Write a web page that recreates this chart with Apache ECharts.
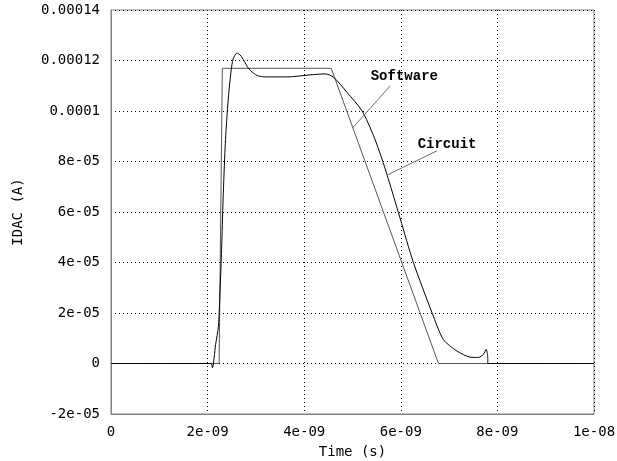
<!DOCTYPE html>
<html>
<head>
<meta charset="utf-8">
<script src="https://cdn.jsdelivr.net/npm/echarts@6/dist/echarts.min.js"></script>
<style>html,body{margin:0;padding:0;background:#fff}#c{width:617px;height:461px}</style>
</head>
<body>
<div id="c"></div>
<script>
// time in ns, current in µA (1e-6 A)
var xTickLabels = ['0', '2e-09', '4e-09', '6e-09', '8e-09', '1e-08'];
var yTickLabels = ['-2e-05', '0', '2e-05', '4e-05', '6e-05', '8e-05', '0.0001', '0.00012', '0.00014'];

var softwareT = [0, 2.238, 2.305, 4.56, 6.78, 10];
var softwareI = [0, 0, 116.9, 116.9, 0, 0];

var circuitT = [0, 2.07, 2.10, 2.166, 2.224, 2.259, 2.290, 2.321, 2.363, 2.404, 2.446, 2.487, 2.528, 2.605, 2.674, 2.756, 2.839, 2.943, 3.047, 3.192, 3.648, 4.124, 4.435, 4.607, 4.885, 5.196, 5.436, 5.610, 5.714, 5.818, 5.990, 6.259, 6.653, 6.881, 7.165, 7.440, 7.606, 7.710, 7.766, 7.799, 7.803, 7.979, 10];
var circuitI = [0, 0, -1.7, 7.5, 14.7, 29.4, 45.2, 65.1, 85.7, 98.8, 108.7, 115.9, 120.6, 122.9, 122.2, 119.8, 117.1, 115.1, 113.9, 113.5, 113.5, 114.3, 114.7, 113.4, 107.4, 100.1, 90.2, 81.0, 74.8, 68.3, 57.2, 40.1, 19.8, 9.5, 4.9, 2.5, 2.4, 3.6, 5.6, 2.8, 0, 0, 0];

function zip(a, b) { return a.map(function (v, i) { return [v, b[i]]; }); }

var chart = echarts.init(document.getElementById('c'), null, { renderer: 'canvas' });
var tickFont = { fontFamily: 'DejaVu Sans Mono', fontSize: 14, color: '#000' };

var option = {
  animation: false,
  backgroundColor: '#fff',
  grid: { left: 111, right: 23, top: 10, bottom: 47, show: true, borderColor: '#808080', borderWidth: 1,
    containLabel: false, outerBoundsMode: 'none' },
  xAxis: {
    type: 'value', min: 0, max: 10, interval: 2,
    name: 'Time (s)', nameLocation: 'middle', nameGap: 31,
    nameTextStyle: tickFont,
    axisLine: { show: true, onZero: false, lineStyle: { color: '#808080', width: 1 } },
    axisTick: { show: false },
    axisLabel: Object.assign({ margin: 11, formatter: function (v) { return xTickLabels[Math.round(v / 2)]; } }, tickFont),
    splitLine: { show: true, lineStyle: { color: '#000', width: 1, type: [1, 3] } }
  },
  yAxis: {
    type: 'value', min: -20, max: 140, interval: 20,
    name: 'IDAC (A)', nameLocation: 'middle', nameGap: 86, nameRotate: 90,
    nameTextStyle: tickFont,
    axisLine: { show: true, onZero: false, lineStyle: { color: '#808080', width: 1 } },
    axisTick: { show: false },
    axisLabel: Object.assign({ margin: 11, formatter: function (v) { return yTickLabels[Math.round((v + 20) / 20)]; } }, tickFont),
    splitLine: { show: true, lineStyle: { color: '#000', width: 1, type: [1, 3] } }
  },
  series: [
    { name: 'Software', type: 'line', data: zip(softwareT, softwareI), showSymbol: false, symbol: 'none',
      lineStyle: { color: '#555', width: 1 }, z: 3 },
    { name: 'Circuit', type: 'line', data: zip(circuitT, circuitI), showSymbol: false, symbol: 'none',
      smooth: 0.25,
      lineStyle: { color: '#000', width: 1 }, z: 4 },
    { name: 'pointers', type: 'line', data: [], symbol: 'none',
      markLine: {
        silent: true, symbol: ['none', 'none'], label: { show: false },
        lineStyle: { color: '#707070', width: 1, type: 'solid' },
        data: [
          [{ coord: [5.782, 110.0] }, { coord: [5.001, 93.25] }],
          [{ coord: [6.750, 84.24] }, { coord: [5.714, 74.6] }]
        ]
      }
    }
  ]
};
chart.setOption(option);

var notes = [
  { text: 'Software', at: [6.073, 113.5] },
  { text: 'Circuit', at: [6.958, 86.9] }
];
chart.setOption({
  graphic: notes.map(function (n) {
    var p = chart.convertToPixel({ gridIndex: 0 }, n.at);
    return { type: 'text', x: p[0], y: p[1], style: { text: n.text, fill: '#000',
      font: 'bold 14px "Liberation Mono"', textAlign: 'center', textVerticalAlign: 'middle' } };
  })
});
</script>
</body>
</html>
